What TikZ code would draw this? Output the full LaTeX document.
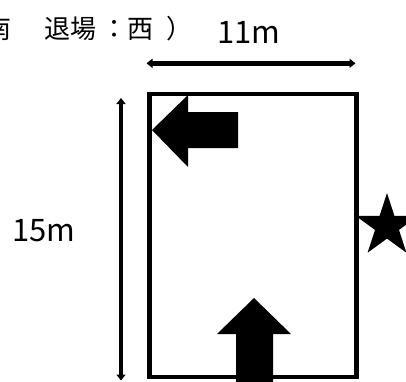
\documentclass[tikz,border=0pt]{standalone}
\usepackage{fontspec}
\setmainfont{Noto Sans CJK JP}
\usetikzlibrary{arrows.meta}
\begin{document}
\begin{tikzpicture}[x=1pt,y=-1pt,
  dimline/.style={line width=4.5pt,{Triangle[length=6pt,width=9pt]}-{Triangle[length=6pt,width=9pt]}},
  fieldbox/.style={draw,line width=4.5pt},
  blockarrow/.style={fill=black},
  lbl/.style={inner sep=0pt,font=\fontsize{31}{33}\selectfont},
  note/.style={inner sep=0pt,font=\fontsize{26}{28}\selectfont}]
\useasboundingbox (0,0) rectangle (406,381);
% field
\draw[fieldbox] (149.25,93.75) rectangle (356.25,376.75);
% dimension lines
\coordinate (hL) at (146.5,63.3);
\coordinate (hR) at (355.5,63.3);
\coordinate (vT) at (121,98);
\coordinate (vB) at (121,380.5);
\draw[dimline] (hL) -- (hR);
\draw[dimline] (vT) -- (vB);
% labels
\node[lbl] (w) at (249,32.5) {11m};
\node[lbl] (h) at (44,230.5) {15m};
\node[note,anchor=base west] (t) at (-15,38) {南\hspace{7pt}　退場\hspace{5pt}：西\hspace{13pt}）};
% exit arrow (west)
\fill[blockarrow] (152,130) -- (188,95) -- (188,112) -- (238,112) -- (238,148) -- (188,148) -- (188,167) -- cycle;
% entrance arrow (south)
\fill[blockarrow] (254,298) -- (291,334) -- (273,334) -- (273,390) -- (236,390) -- (236,334) -- (217,334) -- cycle;
% star
\fill (387,226) +(-90:33) -- +(-54:12.6) -- +(-18:33) -- +(18:12.6) -- +(54:33) -- +(90:12.6) -- +(126:33) -- +(162:12.6) -- +(198:33) -- +(234:12.6) -- cycle;
\end{tikzpicture}
\end{document}
